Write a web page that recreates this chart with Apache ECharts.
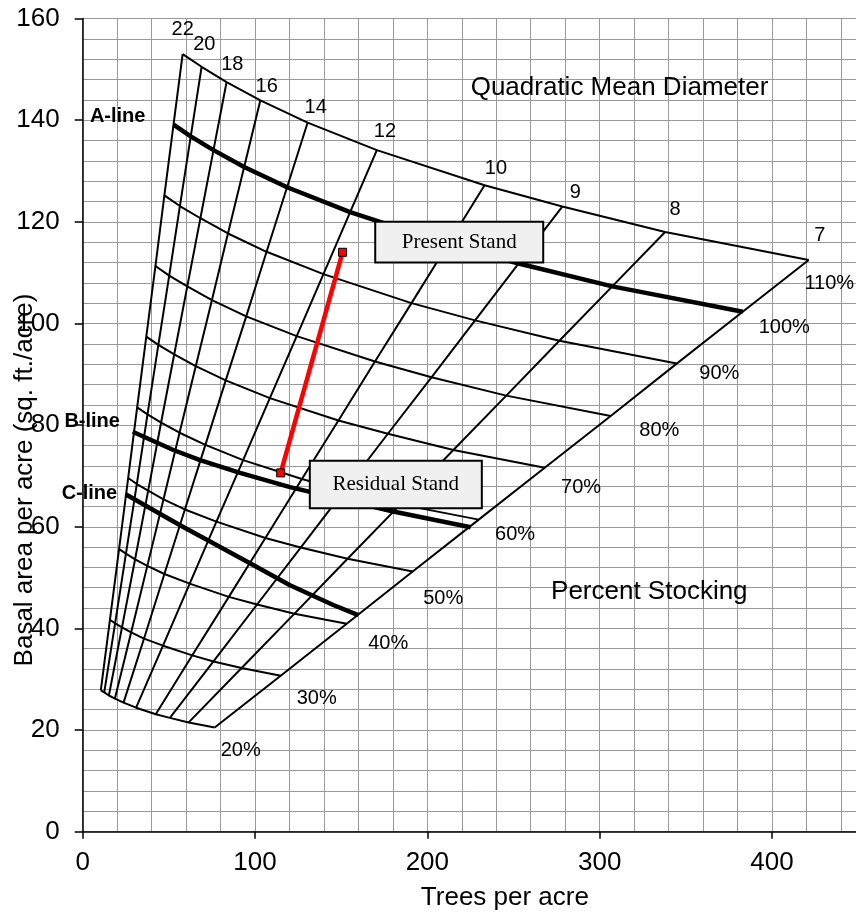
<!DOCTYPE html>
<html><head><meta charset="utf-8">
<script src="https://cdn.jsdelivr.net/npm/echarts@6/dist/echarts.min.js"></script>
<style>html,body{margin:0;padding:0;background:#fff}#c{width:856px;height:913px}</style>
</head><body><div id="c"></div>
<script>
// ---- data ----
const diameters = [22, 20, 18, 16, 14, 12, 10, 9, 8, 7];           // quadratic mean diameter rays
const stockingLevels = [20, 30, 40, 50, 60, 70, 80, 90, 100, 110];  // percent stocking curves
// trees per acre where each stocking curve meets each diameter ray (rows: stocking, cols: diameter)
const tpaByStocking = [
  [10.5, 12.5, 15.2, 18.7, 23.7, 31.0, 42.4, 50.6, 61.5, 76.6],
  [15.8, 18.8, 22.8, 28.1, 35.6, 46.6, 63.6, 75.9, 92.2, 114.9],
  [21.1, 25.1, 30.4, 37.5, 47.4, 62.1, 84.8, 101.2, 122.9, 153.2],
  [26.4, 31.4, 38.0, 46.9, 59.3, 77.6, 106.0, 126.5, 153.7, 191.5],
  [31.6, 37.6, 45.5, 56.2, 71.2, 93.1, 127.2, 151.8, 184.4, 229.8],
  [36.9, 43.9, 53.1, 65.6, 83.0, 108.6, 148.4, 177.1, 215.1, 268.1],
  [42.2, 50.2, 60.7, 75.0, 94.9, 124.2, 169.6, 202.4, 245.8, 306.4],
  [47.4, 56.4, 68.3, 84.3, 106.7, 139.7, 190.8, 227.7, 276.6, 344.7],
  [52.7, 62.7, 75.9, 93.7, 118.6, 155.2, 212.0, 253.0, 307.3, 383.0],
  [58.0, 69.0, 83.5, 103.1, 130.5, 170.7, 233.2, 278.3, 338.0, 421.3]
];
// basal area (sq. ft./acre) at the same intersections
const baByStocking = [
  [27.8, 27.4, 26.8, 26.2, 25.4, 24.4, 23.1, 22.4, 21.5, 20.5],
  [41.7, 41.0, 40.2, 39.2, 38.0, 36.6, 34.7, 33.5, 32.2, 30.7],
  [55.6, 54.7, 53.6, 52.3, 50.7, 48.8, 46.2, 44.7, 42.9, 40.9],
  [69.6, 68.4, 67.1, 65.4, 63.4, 61.0, 57.8, 55.9, 53.7, 51.2],
  [83.5, 82.1, 80.5, 78.5, 76.1, 73.1, 69.4, 67.1, 64.4, 61.4],
  [97.4, 95.8, 93.9, 91.6, 88.8, 85.3, 80.9, 78.3, 75.1, 71.6],
  [111.3, 109.4, 107.3, 104.6, 101.4, 97.5, 92.5, 89.4, 85.8, 81.8],
  [125.2, 123.1, 120.7, 117.7, 114.1, 109.7, 104.0, 100.6, 96.6, 92.1],
  [139.1, 136.8, 134.1, 130.8, 126.8, 121.9, 115.6, 111.8, 107.3, 102.3],
  [153.0, 150.5, 147.5, 143.9, 139.5, 134.1, 127.2, 123.0, 118.0, 112.5]
];
const bLineTPA = [29.0, 52.6, 68.1, 91.3, 120.3, 180.2, 225.1];
const bLineBA  = [78.7, 75.1, 73.1, 70.6, 67.8, 63.0, 59.9];
const cLineTPA = [24.9, 56.5, 73.9, 97.1, 120.3, 145.4, 159.9];
const cLineBA  = [66.4, 60.3, 57.1, 52.8, 48.5, 44.6, 42.6];
const standNames = ['Present Stand', 'Residual Stand'];
const standTPA = [150.8, 114.9];
const standBA  = [114.0, 70.6];

// ---- annotation anchors (data units) ----
const diamLabelAt = [[58.0,157.9],[70.6,154.9],[86.8,150.9],[106.8,146.6],[135.2,142.5],[175.4,137.7],[239.8,130.4],[285.8,125.8],[343.7,122.5],[427.8,117.4]];
const pctLabelAt = [[91.7,15.9],[135.8,26.2],[177.3,37.1],[209.2,45.9],[250.9,58.5],[289.2,67.8],[334.6,79.0],[369.4,90.2],[407.1,99.2],[433.2,107.8]];
const lineNameText = ['A-line', 'B-line', 'C-line'];
const lineNameAt = [[20.3,140.8],[5.5,80.8],[3.9,66.6]];
const titleText = ['Quadratic Mean Diameter', 'Percent Stocking'];
const titleAt = [[311.5,146.3],[328.8,47.1]];
const boxAt = [[218.5,116.0],[181.7,68.3]];
const boxSize = [[166,38.6],[170,45.6]];
const yTitle = 'Basal area per acre (sq. ft./acre)';

const SANS = "'Liberation Sans', Arial, sans-serif";
const SERIF = "'Liberation Serif', 'Times New Roman', serif";
const pt = (j, i) => [tpaByStocking[j][i], baByStocking[j][i]];

const series = [];
// diameter rays
diameters.forEach((d, i) => {
  series.push({ type: 'line', name: 'D' + d, data: stockingLevels.map((s, j) => pt(j, i)),
    symbol: 'none', lineStyle: { color: '#000', width: 2 }, z: 3, silent: true });
});
// stocking curves
stockingLevels.forEach((s, j) => {
  series.push({ type: 'line', name: s + '%', data: diameters.map((d, i) => pt(j, i)),
    symbol: 'none', lineStyle: { color: '#000', width: s === 100 ? 4.5 : 2, join: 'round' }, z: 3, silent: true });
});
series.push({ type: 'line', name: 'B-line', data: bLineTPA.map((x, k) => [x, bLineBA[k]]),
  symbol: 'none', lineStyle: { color: '#000', width: 4.5, join: 'round' }, z: 3, silent: true });
series.push({ type: 'line', name: 'C-line', data: cLineTPA.map((x, k) => [x, cLineBA[k]]),
  symbol: 'none', lineStyle: { color: '#000', width: 4.5, join: 'round' }, z: 3, silent: true });
// thinning path
series.push({ type: 'line', name: 'stands', data: standTPA.map((x, k) => [x, standBA[k]]),
  symbol: 'rect', symbolSize: 8, showSymbol: true,
  itemStyle: { color: '#ff0000', borderColor: '#000', borderWidth: 1 },
  lineStyle: { color: '#ff0000', width: 4.5 }, z: 6, silent: true });

function textSeries(items, style) {
  return { type: 'scatter', symbolSize: 1, itemStyle: { color: 'rgba(0,0,0,0)', opacity: 1 }, silent: true, z: 8,
    data: items.map(it => ({ value: it.at, name: it.text })),
    label: Object.assign({ show: true, position: 'inside', formatter: '{b}', color: '#000', opacity: 1,
      align: 'center', verticalAlign: 'middle' }, style) };
}
series.push(textSeries(diameters.map((d, i) => ({ text: String(d), at: diamLabelAt[i] })),
  { fontSize: 20, fontFamily: SANS }));
series.push(textSeries(stockingLevels.map((s, i) => ({ text: s + '%', at: pctLabelAt[i] })),
  { fontSize: 20, fontFamily: SANS }));
series.push(textSeries(lineNameText.map((t, i) => ({ text: t, at: lineNameAt[i] })),
  { fontSize: 20, fontWeight: 'bold', fontFamily: SANS }));
series.push(textSeries(titleText.map((t, i) => ({ text: t, at: titleAt[i] })),
  { fontSize: 26, fontFamily: SANS }));
standNames.forEach((t, i) => {
  series.push(Object.assign(textSeries([{ text: t, at: boxAt[i] }],
    { fontSize: 21, fontFamily: SERIF, backgroundColor: '#f0f0f0', borderColor: '#000', borderWidth: 2,
      width: boxSize[i][0], height: boxSize[i][1], lineHeight: boxSize[i][1], padding: 0 }), { z: 9 }));
});

const gridColor = '#9a9a9a';
const option = {
  animation: false,
  backgroundColor: '#fff',
  grid: { left: 82.7, top: 18.5, width: 844.4, height: 813.2, containLabel: false, outerBoundsMode: 'none' },
  graphic: [{
    type: 'text', x: 25, y: 480, rotation: Math.PI / 2, silent: true,
    style: { text: yTitle, fontSize: 26, fontFamily: SANS, fill: '#000', align: 'center', verticalAlign: 'middle' }
  }],
  xAxis: {
    type: 'value', min: 0, max: 490, interval: 100,
    name: 'Trees per acre', nameLocation: 'middle', nameGap: 53,
    nameTextStyle: { fontSize: 26, color: '#000', fontFamily: SANS },
    axisLine: { show: true, onZero: false, lineStyle: { color: '#000', width: 1.5 } },
    axisTick: { show: true, length: 7, lineStyle: { color: '#000', width: 1.5 } },
    axisLabel: { fontSize: 26, color: '#000', fontFamily: SANS, margin: 18, showMaxLabel: false },
    splitLine: { show: true, lineStyle: { color: gridColor, width: 1 } },
    minorTick: { show: false, splitNumber: 5 },
    minorSplitLine: { show: true, lineStyle: { color: gridColor, width: 1 } }
  },
  yAxis: {
    type: 'value', min: 0, max: 160, interval: 20,
    axisLine: { show: true, onZero: false, lineStyle: { color: '#000', width: 1.5 } },
    axisTick: { show: true, length: 8, lineStyle: { color: '#000', width: 1.5 } },
    axisLabel: { fontSize: 26, color: '#000', fontFamily: SANS, margin: 23 },
    splitLine: { show: true, lineStyle: { color: gridColor, width: 1 } },
    minorTick: { show: false, splitNumber: 5 },
    minorSplitLine: { show: true, lineStyle: { color: gridColor, width: 1 } }
  },
  series: series
};
const chart = echarts.init(document.getElementById('c'), null, { renderer: 'canvas' });
chart.setOption(option);
</script></body></html>
